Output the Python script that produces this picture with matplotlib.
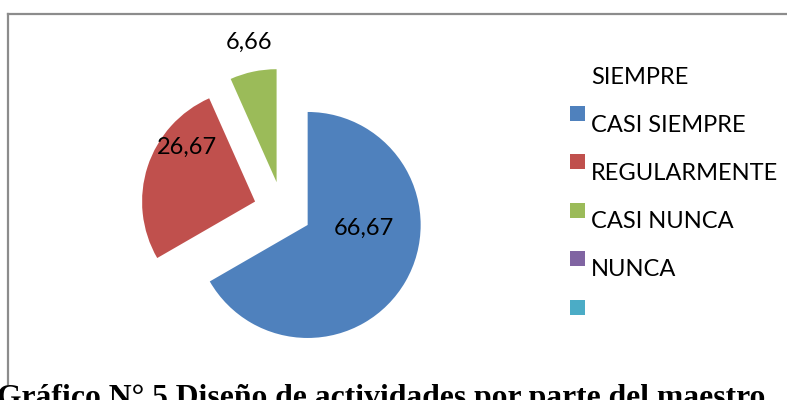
import numpy as np
import matplotlib
matplotlib.use("Agg")
import matplotlib.pyplot as plt
from matplotlib.lines import Line2D
from matplotlib.patches import Rectangle

# datos
categorias = ["CASI SIEMPRE", "REGULARMENTE", "CASI NUNCA"]
valores = [66.67, 26.67, 6.66]
colores = ["#4F81BD", "#C0504D", "#9BBB59"]

leyenda_textos = ["SIEMPRE", "CASI SIEMPRE", "REGULARMENTE", "CASI NUNCA", "NUNCA", ""]
leyenda_colores = [None, "#4F81BD", "#C0504D", "#9BBB59", "#8064A2", "#4BACC6"]

titulo = "Gráfico N° 5 Diseño de actividades por parte del maestro"

W, H = 787, 400
fig = plt.figure(figsize=(W / 100, H / 100), dpi=100)


def fx(x):
    return x / W


def fy(y):
    # y medido desde arriba en pixeles
    return 1 - y / H


fuente = ["Lato", "DejaVu Sans"]
tam = 17

# marco del grafico (sin borde derecho ni inferior visibles)
gris = "#8c8c8c"
fig.add_artist(Line2D([fx(8), fx(W + 5)], [fy(14), fy(14)], color=gris, lw=1.6))
fig.add_artist(Line2D([fx(8), fx(8)], [fy(14), fy(384)], color=gris, lw=1.6))

# torta
cx, cy, r = 282.6, 210.5, 113
lado = 3 * r
ax = fig.add_axes([fx(cx - lado / 2), fy(cy + lado / 2), lado / W, lado / H])
wedges, _ = ax.pie(valores, colors=colores, startangle=90, counterclock=False,
                   explode=[0.256] * len(valores), radius=1,
                   wedgeprops=dict(linewidth=0))
ax.set_xlim(-1.5, 1.5)
ax.set_ylim(-1.5, 1.5)
ax.axis("off")

# posicion de las etiquetas (angulo, fraccion del radio) respecto al vertice de cada sector
pos_etiquetas = [(-3, 0.5), (141.5, 0.77), (101, 1.26)]
for w, v, (ang, fr) in zip(wedges, valores, pos_etiquetas):
    x0, y0 = w.center
    a = np.deg2rad(ang)
    ax.text(x0 + fr * np.cos(a), y0 + fr * np.sin(a), f"{v:.2f}".replace(".", ","),
            ha="center", va="center", fontsize=tam, family=fuente, color="black")

# leyenda hecha a mano (texto desplazado respecto a los cuadros, como en el original)
for i, (t, c) in enumerate(zip(leyenda_textos, leyenda_colores)):
    ym = 65 + 48.4 * i
    if c is not None:
        fig.add_artist(Rectangle((fx(570), fy(ym + 7.5)), 15 / W, 15 / H,
                                 transform=fig.transFigure, color=c, lw=0))
    fig.text(fx(591), fy(78 + 47.8 * i), t, ha="left", va="center",
             fontsize=tam, family=fuente, color="black")

# titulo inferior
fig.text(fx(-3), -6 / H, titulo, ha="left", va="baseline", fontsize=22.8,
         family=["Liberation Serif", "DejaVu Serif"], fontweight="bold", color="black")

fig.savefig("out.png", dpi=100)
